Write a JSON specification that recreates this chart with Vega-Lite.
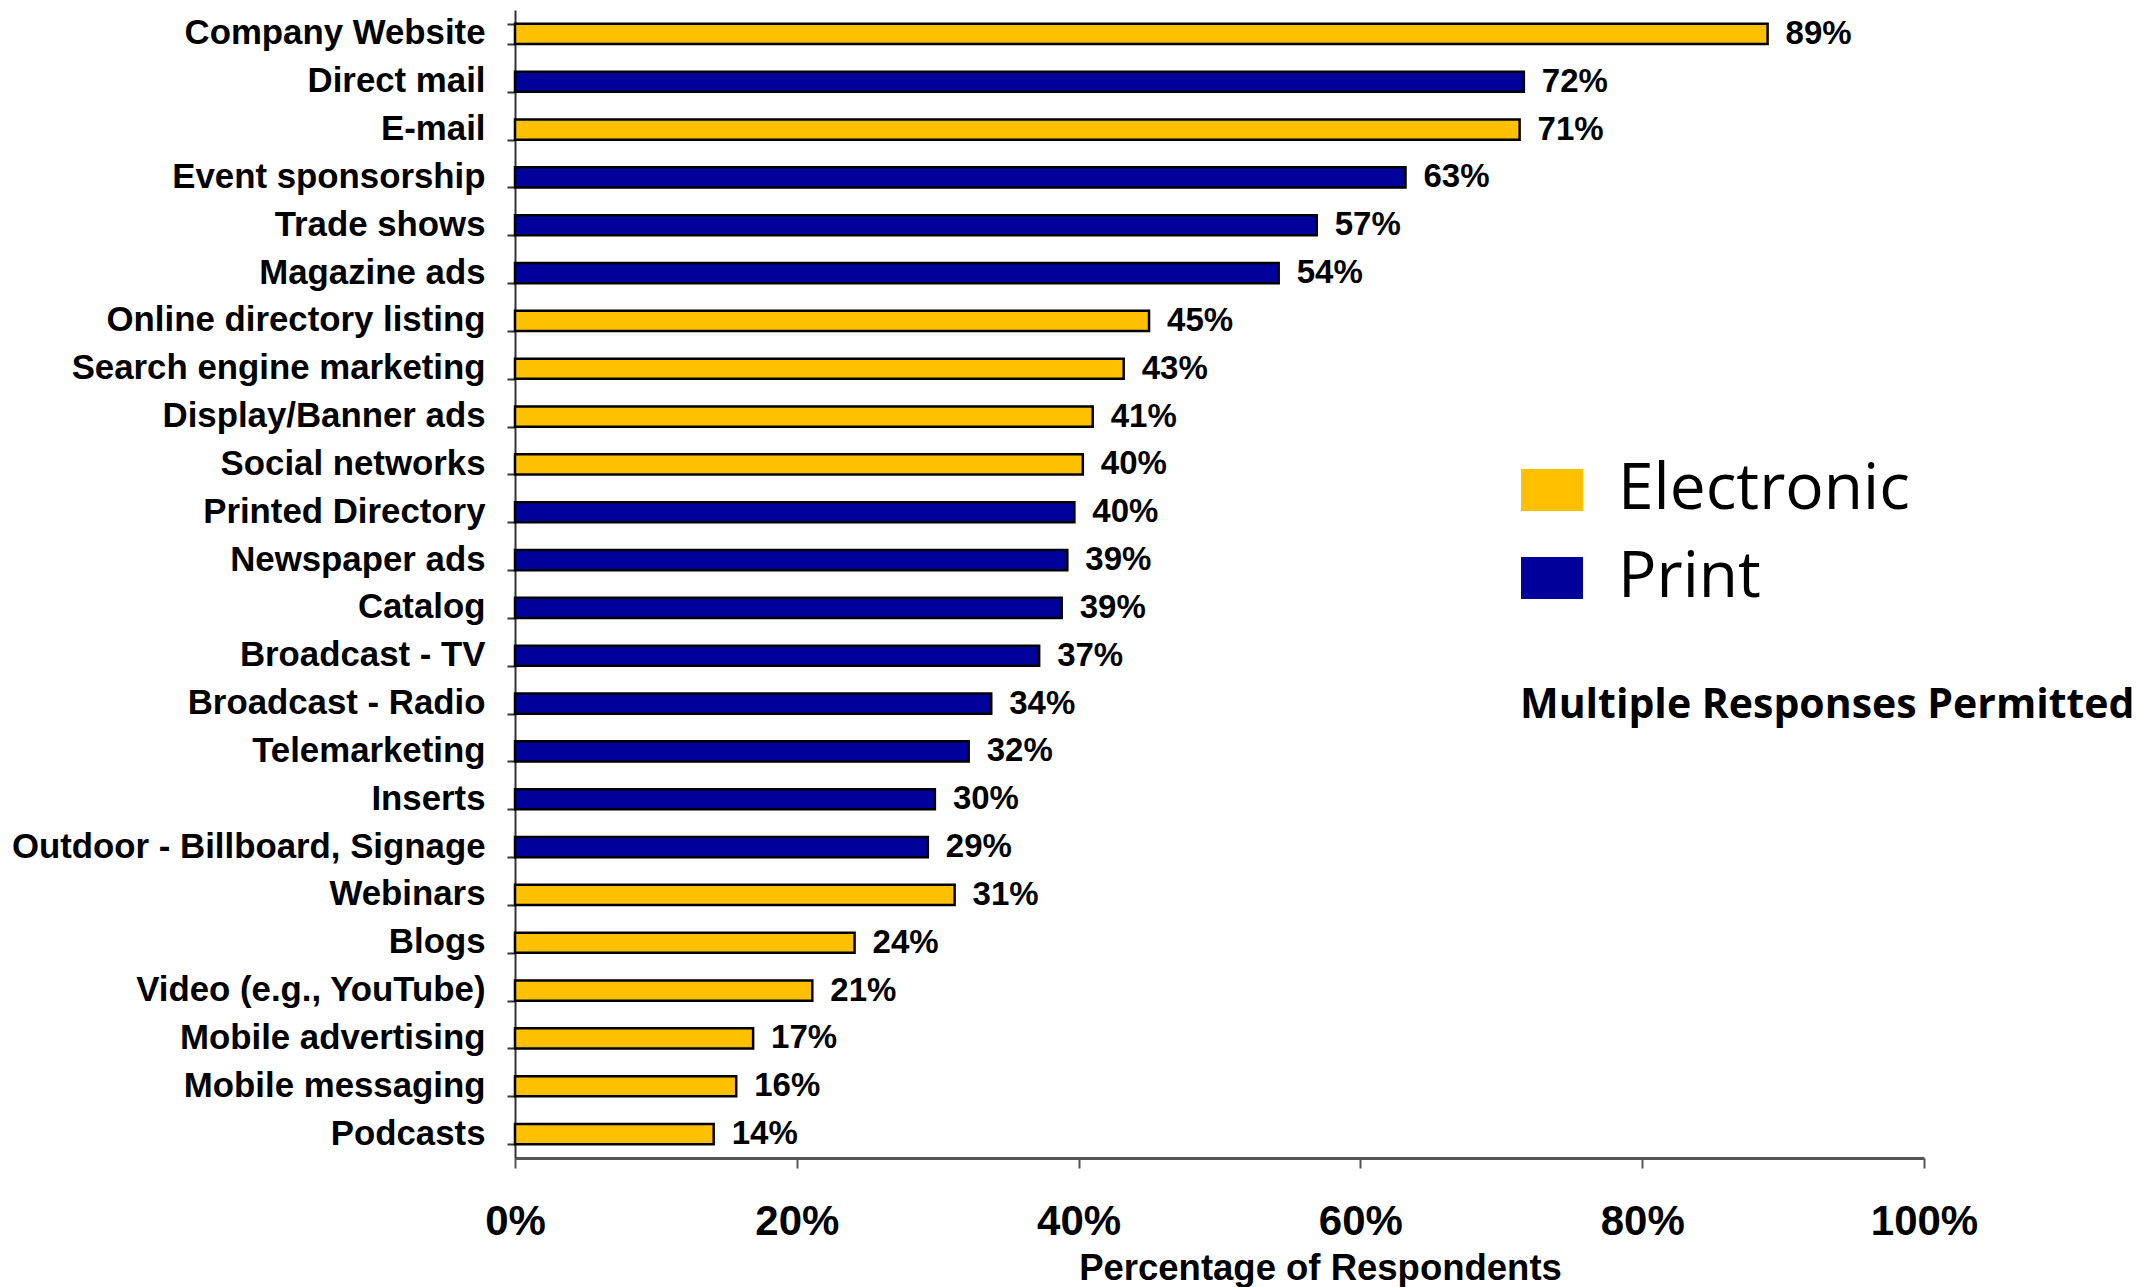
{
  "$schema": "https://vega.github.io/schema/vega-lite/v6.json",
  "autosize": "none",
  "width": 1409,
  "height": 1148,
  "padding": {"left": 515, "top": 10, "right": 223, "bottom": 129},
  "background": "white",
  "config": {"view": {"stroke": null}, "font": "Liberation Sans"},
  "data": {
    "values": [
      {"channel": "Company Website", "pct": 0.889, "type": "Electronic"},
      {"channel": "Direct mail", "pct": 0.716, "type": "Print"},
      {"channel": "E-mail", "pct": 0.713, "type": "Electronic"},
      {"channel": "Event sponsorship", "pct": 0.632, "type": "Print"},
      {"channel": "Trade shows", "pct": 0.569, "type": "Print"},
      {"channel": "Magazine ads", "pct": 0.542, "type": "Print"},
      {"channel": "Online directory listing", "pct": 0.450, "type": "Electronic"},
      {"channel": "Search engine marketing", "pct": 0.432, "type": "Electronic"},
      {"channel": "Display/Banner ads", "pct": 0.410, "type": "Electronic"},
      {"channel": "Social networks", "pct": 0.403, "type": "Electronic"},
      {"channel": "Printed Directory", "pct": 0.397, "type": "Print"},
      {"channel": "Newspaper ads", "pct": 0.392, "type": "Print"},
      {"channel": "Catalog", "pct": 0.388, "type": "Print"},
      {"channel": "Broadcast - TV", "pct": 0.372, "type": "Print"},
      {"channel": "Broadcast - Radio", "pct": 0.338, "type": "Print"},
      {"channel": "Telemarketing", "pct": 0.322, "type": "Print"},
      {"channel": "Inserts", "pct": 0.298, "type": "Print"},
      {"channel": "Outdoor - Billboard, Signage", "pct": 0.293, "type": "Print"},
      {"channel": "Webinars", "pct": 0.312, "type": "Electronic"},
      {"channel": "Blogs", "pct": 0.241, "type": "Electronic"},
      {"channel": "Video (e.g., YouTube)", "pct": 0.211, "type": "Electronic"},
      {"channel": "Mobile advertising", "pct": 0.169, "type": "Electronic"},
      {"channel": "Mobile messaging", "pct": 0.157, "type": "Electronic"},
      {"channel": "Podcasts", "pct": 0.141, "type": "Electronic"}
    ]
  },
  "encoding": {
    "y": {
      "field": "channel",
      "type": "nominal",
      "sort": null,
      "scale": {"paddingInner": 0.58, "paddingOuter": 0.29},
      "axis": {
        "title": null,
        "domainColor": "#333333",
        "domainWidth": 2,
        "tickBand": "extent",
        "tickColor": "#333333",
        "tickSize": 8,
        "tickWidth": 2,
        "labelFont": "Liberation Sans",
        "labelFontSize": 34.8,
        "labelFontWeight": "bold",
        "labelColor": "black",
        "labelPadding": 22,
        "labelLimit": 700
      }
    },
    "x": {
      "field": "pct",
      "type": "quantitative",
      "scale": {"domain": [0, 1]},
      "axis": {
        "values": [0, 0.2, 0.4, 0.6, 0.8, 1],
        "format": ".0%",
        "grid": false,
        "domainColor": "#555555",
        "domainWidth": 3,
        "tickColor": "#555555",
        "tickWidth": 2,
        "tickSize": 10,
        "labelFont": "Liberation Sans",
        "labelFontSize": 42,
        "labelFontWeight": "bold",
        "labelColor": "black",
        "labelPadding": 33,
        "labelFlush": false,
        "title": "Percentage of Respondents",
        "titleFont": "Liberation Sans",
        "titleFontSize": 36.5,
        "titleFontWeight": "bold",
        "titleColor": "black",
        "titlePadding": 8,
        "titleX": 805,
        "titleAlign": "center"
      }
    }
  },
  "layer": [
    {
      "mark": {"type": "bar", "stroke": "black", "strokeWidth": 2.5},
      "encoding": {
        "fill": {
          "field": "type",
          "type": "nominal",
          "scale": {"domain": ["Electronic", "Print"], "range": ["#FFC000", "#00009A"]},
          "legend": {
            "orient": "none",
            "legendX": 1005,
            "legendY": 448,
            "padding": 0,
            "title": "Multiple Responses Permitted",
            "titleOrient": "bottom",
            "titleAnchor": "start",
            "titleFont": "Open Sans",
            "titleFontSize": 41,
            "titleFontWeight": "bold",
            "titleColor": "black",
            "titlePadding": 76,
            "titleLimit": 1000,
            "labelFont": "Open Sans",
            "labelFontSize": 64,
            "labelColor": "black",
            "labelOffset": 34,
            "labelLimit": 600,
            "symbolType": "M-1,-0.68H1V0.68H-1Z",
            "symbolSize": 3844,
            "symbolStrokeWidth": 0,
            "rowPadding": 24,
            "encode": {
              "symbols": {
                "update": {
                  "fill": {"signal": "datum.value === 'Print' ? '#002060' : '#FFC000'"},
                  "strokeWidth": {"value": 0}
                }
              }
            }
          }
        }
      }
    },
    {
      "mark": {
        "type": "text",
        "align": "left",
        "baseline": "middle",
        "dx": 18,
        "font": "Liberation Sans",
        "fontSize": 33,
        "fontWeight": "bold",
        "color": "black"
      },
      "encoding": {
        "text": {"field": "pct", "type": "quantitative", "format": ".0%"}
      }
    }
  ]
}
